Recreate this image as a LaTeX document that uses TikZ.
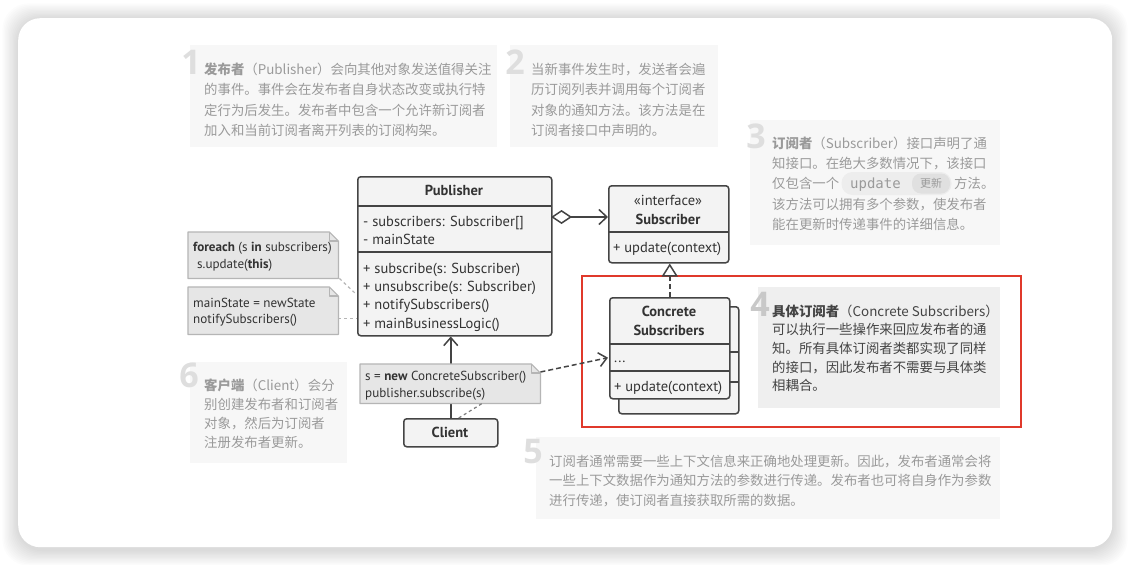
\documentclass[tikz,border=0pt]{standalone}
\usepackage{fontspec}
\setmainfont{PT Sans}
\newfontfamily\cjk{Noto Sans CJK SC}
\newfontfamily\digitfont{Open Sans}
\newfontfamily\codemono{DejaVu Sans Mono}
\usetikzlibrary{arrows.meta}
\definecolor{notebg}{HTML}{F7F7F7}
\definecolor{notefour}{HTML}{EFEFEF}
\definecolor{notetext}{HTML}{9A9A9A}
\definecolor{notefourtext}{HTML}{444444}
\definecolor{digitc}{HTML}{DEDEDE}
\definecolor{digitfour}{HTML}{C8C8C8}
\definecolor{classfill}{HTML}{F3F3F3}
\definecolor{classline}{HTML}{444444}
\definecolor{classtext}{HTML}{333333}
\definecolor{codefill}{HTML}{E6E6E6}
\definecolor{codeline}{HTML}{B5B5B5}
\definecolor{redline}{HTML}{E0392B}
\definecolor{pillbg}{HTML}{EDEDED}
\definecolor{pilldark}{HTML}{E0E0E0}
\newcommand\textlines[6]{%
  \foreach \t [count=\i] in {#6} {\node[#5, anchor=base west] (#1-\i) at ({#2},{#3+(\i-1)*#4}) {\t};}}
\newcommand\foldnote[1]{%
  \fill[codefill] (#1.north west) -- ([xshift=-9pt]#1.north east) -- ([yshift=-9pt]#1.north east) -- (#1.south east) -- (#1.south west) -- cycle;
  \draw[codeline, line width=1.2pt, line join=round] (#1.north west) -- ([xshift=-9pt]#1.north east) -- ([yshift=-9pt]#1.north east) -- (#1.south east) -- (#1.south west) -- cycle;
  \draw[codeline, line width=1.2pt, line join=round] ([xshift=-9pt]#1.north east) -- ([xshift=-9pt,yshift=-9pt]#1.north east) -- ([yshift=-9pt]#1.north east);}
\begin{document}
\begin{tikzpicture}[x=1pt,y=-1pt,
  notebox/.style={fill=notebg, inner sep=0, anchor=north west},
  ntxt/.style={font=\cjk\fontsize{13.4}{16}\selectfont, text=notetext, inner sep=0},
  ntxtfour/.style={font=\cjk\fontsize{13.4}{16}\selectfont, text=notefourtext, inner sep=0},
  digit/.style={font=\digitfont\bfseries\fontsize{34}{34}\selectfont, text=digitc, inner sep=0, anchor=base east},
  classbox/.style={fill=classfill, draw=classline, line width=1.5pt, rounded corners=3pt, inner sep=0, anchor=north west},
  divider/.style={draw=classline, line width=1.5pt},
  ctxt/.style={font=\fontsize{14.5}{17}\selectfont, text=classtext, inner sep=0, anchor=base west},
  ctitle/.style={font=\bfseries\fontsize{14.5}{17}\selectfont, text=classtext, inner sep=0, anchor=base},
  codetxt/.style={font=\fontsize{13.1}{15}\selectfont, text=classtext, inner sep=0, anchor=base west},
  conn/.style={draw=classline, line width=1.5pt},
  dashconn/.style={draw=classline, line width=1.5pt, dash pattern=on 5pt off 3pt},
  notelink/.style={draw=codeline, line width=1.2pt, dash pattern=on 3pt off 3pt}
]
\useasboundingbox (0,0) rectangle (1130,565);
% shadow
\foreach \k in {1,...,12} {\fill[black, opacity=0.011, rounded corners=26pt] ({18-\k*1.3},{19-\k*1.3}) rectangle ({1112+\k*1.3},{550+\k*1.3});}
\node[fill=white, rounded corners=22pt, inner sep=0, minimum width=1094, minimum height=529, anchor=north west] (card) at (18,18) {};

% note boxes
\node[notebox, minimum width=307, minimum height=102] (n1) at (190,45) {};
\node[notebox, minimum width=208, minimum height=102] (n2) at (510,45) {};
\node[notebox, minimum width=250, minimum height=125] (n3) at (750,120) {};
\node[notebox, minimum width=464, minimum height=82] (n5) at (536,437) {};
\node[notebox, minimum width=157, minimum height=101] (n6) at (190,362) {};
\node[notebox, fill=notefour, minimum width=242, minimum height=121] (n4) at (758,287) {};

% digits
\node[digit] (d1) at (201,74) {1};
\node[digit] (d2) at (525,74) {2};
\node[digit] (d3) at (766,148) {3};
\node[digit, text=digitfour] (d4) at (770,316) {4};
\node[digit] (d5) at (543,463) {5};
\node[digit] (d6) at (199,387) {6};

% note texts
\textlines{t1}{204}{74}{20.5}{ntxt}{{\textbf{发布者}（Publisher）会向其他对象发送值得关注},{的事件。事件会在发布者自身状态改变或执行特},{定行为后发生。发布者中包含一个允许新订阅者},{加入和当前订阅者离开列表的订阅构架。}}
\textlines{t2}{531}{74}{20.5}{ntxt}{{当新事件发生时，发送者会遍},{历订阅列表并调用每个订阅者},{对象的通知方法。该方法是在},{订阅者接口中声明的。}}
\textlines{t3}{772}{148}{20.3}{ntxt}{{\textbf{订阅者}（Subscriber）接口声明了通},{知接口。在绝大多数情况下，该接口}}
\node[ntxt, anchor=base west] (t3-3) at (772,188.6) {仅包含一个};
\node[fill=pillbg, rounded corners=11pt, minimum width=110, minimum height=23, inner sep=0] (pill) at (896.5,183.5) {};
\node[font=\codemono\fontsize{14}{16}\selectfont, text=notetext, inner sep=0, anchor=base west] (upd) at (850,188.5) {update};
\node[fill=pilldark, rounded corners=9pt, minimum width=38, minimum height=20, inner sep=0, font=\cjk\fontsize{11}{12}\selectfont, text=notetext] (gx) at (931,183.5) {更新};
\node[ntxt, anchor=base west] (t3-3b) at (954,188.6) {方法。};
\textlines{t3b}{772}{209.2}{20.3}{ntxt}{{该方法可以拥有多个参数，使发布者},{能在更新时传递事件的详细信息。}}
\textlines{t4}{772}{316}{18.7}{ntxtfour}{{\textbf{具体订阅者}（Concrete Subscribers）},{可以执行一些操作来回应发布者的通},{知。所有具体订阅者类都实现了同样},{的接口，因此发布者不需要与具体类},{相耦合。}}
\textlines{t5}{549}{466}{19.5}{ntxt}{{订阅者通常需要一些上下文信息来正确地处理更新。因此，发布者通常会将},{一些上下文数据作为通知方法的参数进行传递。发布者也可将自身作为参数},{进行传递，使订阅者直接获取所需的数据。}}
\textlines{t6}{204}{390}{19}{ntxt}{{\textbf{客户端}（Client）会分},{别创建发布者和订阅者},{对象，然后为订阅者},{注册发布者更新。}}

% red highlight
\node[draw=redline, line width=1.5pt, inner sep=0, minimum width=439, minimum height=151, anchor=north west] (hl) at (581,275) {};

% Publisher
\node[classbox, minimum width=194, minimum height=159] (pub) at (357,176) {};
\draw[divider] (357,206) -- (551,206);
\draw[divider] (357,252) -- (551,252);
\node[ctitle] (pubt) at (454,195.5) {Publisher};
\textlines{pa}{363}{226}{18.3}{ctxt}{{- subscribers: Subscriber[]},{- mainState}}
\textlines{pm}{363}{273}{18.4}{ctxt}{{+ subscribe(s: Subscriber)},{+ unsubscribe(s: Subscriber)},{+ notifySubscribers()},{+ mainBusinessLogic()}}

% Subscriber interface
\node[classbox, minimum width=120, minimum height=77] (sub) at (608,185) {};
\draw[divider] (608,232) -- (728,232);
\node[font=\fontsize{14.5}{17}\selectfont, text=classtext, inner sep=0, anchor=base] (subi) at (668,205) {«interface»};
\node[ctitle] (subt) at (668,224.5) {Subscriber};
\node[ctxt] (subm) at (613,252) {+ update(context)};

% Concrete subscribers (stack)
\node[classbox, minimum width=120, minimum height=107] (back) at (618,306) {};
\draw[divider] (618,352) -- (738,352);
\draw[divider] (618,382) -- (738,382);
\node[classbox, minimum width=120, minimum height=101] (conc) at (609,297) {};
\draw[divider] (609,344) -- (729,344);
\draw[divider] (609,371) -- (729,371);
\node[inner sep=0, minimum width=120, minimum height=27, anchor=north west] (concdots) at (609,344) {};
\node[ctitle] (conct1) at (669,316) {Concrete};
\node[ctitle] (conct2) at (669,335) {Subscribers};
\node[ctxt] (concd) at (614,362) {...};
\node[ctxt] (concm) at (614,391) {+ update(context)};

% Client
\node[classbox, minimum width=94, minimum height=28] (client) at (403,418) {};
\node[ctitle] (clientt) at (450,437.5) {Client};

% connectors
\coordinate (agg) at (551,217);
\draw[conn, {Diamond[open, length=21pt, width=14pt, fill=white]}-{Straight Barb[length=8pt, width=15pt]}] (agg) -- (agg -| sub.west);
\draw[dashconn, -{Triangle[open, length=13pt, width=16pt, fill=white]}] (conc.north) -- (conc.north |- sub.south);
\draw[conn, -{Straight Barb[length=8pt, width=14pt]}] (client.north) -- (client.north |- pub.south);

% code notes
\node[inner sep=0, minimum width=150, minimum height=46, anchor=north west] (ca) at (188,232) {};
\foldnote{ca}
\node[codetxt] (ca1) at (193,251.5) {\textbf{foreach} (s \textbf{in} subscribers)};
\node[codetxt] (ca2) at (197,268) {s.update(\textbf{this})};
\node[inner sep=0, minimum width=150, minimum height=47, anchor=north west] (cb) at (188,287) {};
\foldnote{cb}
\node[codetxt] (cb1) at (193,307.5) {mainState = newState};
\node[codetxt] (cb2) at (193,323) {notifySubscribers()};
\coordinate (pa1) at (356,294);
\draw[notelink] ([xshift=1pt]ca.south east) -- (pa1);
\draw[notelink] ([yshift=-8pt]cb.east) -- ([yshift=-8pt]cb.east -| pub.west);

\node[inner sep=0, minimum width=180, minimum height=39, anchor=north west] (cc) at (360,364) {};
\foldnote{cc}
\node[codetxt] (cc1) at (365,380) {s = \textbf{new} ConcreteSubscriber()};
\node[codetxt] (cc2) at (365,397) {publisher.subscribe(s)};
\draw[notelink, draw=classline!70] ([xshift=8pt]client.north) -- ([xshift=32pt]cc.south);
\draw[dashconn, -{Straight Barb[length=8pt, width=14pt]}] ([yshift=-8pt]cc.north east) -- ([xshift=-1pt]concdots.west);
\end{tikzpicture}
\end{document}
